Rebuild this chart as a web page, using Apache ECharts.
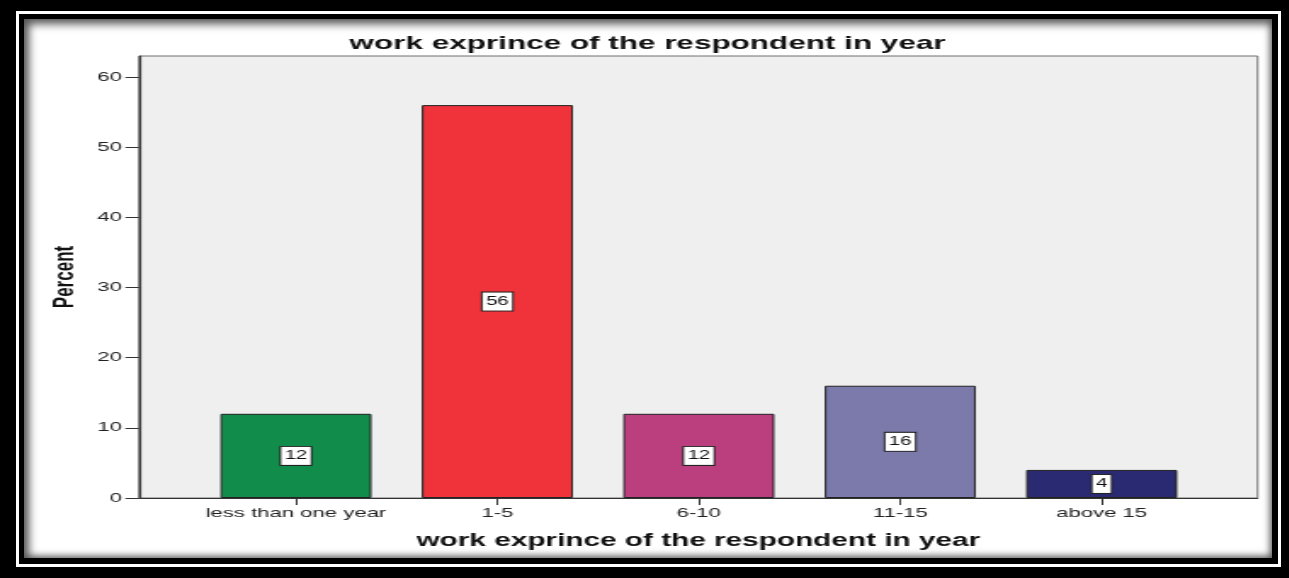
<!DOCTYPE html>
<html>
<head>
<meta charset="utf-8">
<script src="https://cdn.jsdelivr.net/npm/echarts@6/dist/echarts.min.js"></script>
<style>
  html, body { margin: 0; padding: 0; background: #000; width: 1289px; height: 578px; overflow: hidden; }
  #line { position: absolute; left: 16px; top: 11px; width: 1265px; height: 556px; background: #fff; }
  #band { position: absolute; left: 19px; top: 14px; width: 1259px; height: 550px; background: #000; }
  #panel { position: absolute; left: 24px; top: 19px; width: 1248px; height: 539px; background: #fff;
           box-shadow: inset 8px 8px 9px -3px #555, inset -5px -5px 7px -3px #555; }
  #chart { position: absolute; left: 0; top: 0; height: 578px; transform-origin: 0 0; }
</style>
</head>
<body>
<div id="line"></div>
<div id="band"></div>
<div id="panel"></div>
<div id="chart"></div>
<script>
// Work experience of respondents, percent per group
const categories = ['less than one year', '1-5', '6-10', '11-15', 'above 15'];
const percentValues = [12, 56, 12, 16, 4];
const barColors = ['#128c4b', '#f0333b', '#bb3f7e', '#7b7aab', '#2a2a72'];
const yTicks = [0, 10, 20, 30, 40, 50, 60];

// The chart is laid out narrow and widened horizontally (wide lettering).
const STRETCH = 1.7;
const W = 1289, H = 578;
const innerW = W / STRETCH;
const el = document.getElementById('chart');
el.style.width = innerW + 'px';
el.style.transform = 'scaleX(' + STRETCH + ')';

// Plot frame in page pixels
const plotLeft = 139, plotRight = 1258, plotTop = 56, plotBottom = 498;
const slot = 201.5;                       // spacing between bar centres
const firstCentre = 296;
const xMin = -(firstCentre - plotLeft) / slot;
const xMax = xMin + (plotRight - plotLeft) / slot;

const font = '"Liberation Sans", Arial, sans-serif';
const chart = echarts.init(el, null, { renderer: 'canvas' });

chart.setOption({
  animation: false,
  backgroundColor: 'transparent',
  title: {
    text: 'work exprince of the respondent in year',
    left: 639 / STRETCH, top: 29, textAlign: 'center',
    textStyle: { fontFamily: font, fontWeight: 'bold', fontSize: 18.5, color: '#111' }
  },
  grid: {
    left: plotLeft / STRETCH,
    right: innerW - plotRight / STRETCH,
    top: plotTop,
    bottom: H - plotBottom,
    show: true,
    backgroundColor: '#efefef',
    borderColor: '#6e6e6e',
    borderWidth: 1
  },
  xAxis: {
    type: 'value',
    min: xMin,
    max: xMax,
    name: 'work exprince of the respondent in year',
    nameLocation: 'middle',
    nameGap: 34,
    nameTextStyle: { fontFamily: font, fontWeight: 'bold', fontSize: 17.5, color: '#111' },
    splitLine: { show: false },
    axisLine: { show: true, onZero: false, lineStyle: { color: '#333', width: 1 } },
    axisTick: { show: true, length: 7, customValues: categories.map((c, i) => i),
                lineStyle: { color: '#333', width: 1 } },
    axisLabel: {
      customValues: categories.map((c, i) => i),
      formatter: v => categories[Math.round(v)],
      fontFamily: font, fontSize: 13, color: '#222', margin: 9
    }
  },
  yAxis: {
    type: 'value',
    min: 0,
    max: 63,
    interval: 10,
    name: 'Percent',
    nameLocation: 'middle',
    nameRotate: 90,
    nameGap: 33.5,
    nameTextStyle: { fontFamily: font, fontWeight: 'bold', fontSize: 17, color: '#111' },
    splitLine: { show: false },
    axisLine: { show: true, onZero: false, lineStyle: { color: '#333', width: 1.2 } },
    axisTick: { show: true, length: 8, customValues: yTicks, lineStyle: { color: '#333', width: 1 } },
    axisLabel: {
      customValues: yTicks,
      fontFamily: font, fontSize: 13, color: '#222', margin: 10
    }
  },
  series: [{
    type: 'bar',
    barWidth: '75%',
    data: percentValues.map((v, i) => ({
      value: [i, v],
      itemStyle: { color: barColors[i] }
    })),
    itemStyle: { borderColor: '#222', borderWidth: 1 },
    label: {
      show: true,
      position: 'inside',
      formatter: p => String(p.value[1]),
      fontFamily: font, fontSize: 12, color: '#111',
      backgroundColor: '#fff',
      borderColor: '#222', borderWidth: 1,
      padding: [3, 2, 2, 2],
      lineHeight: 13
    }
  }]
});
</script>
</body>
</html>
